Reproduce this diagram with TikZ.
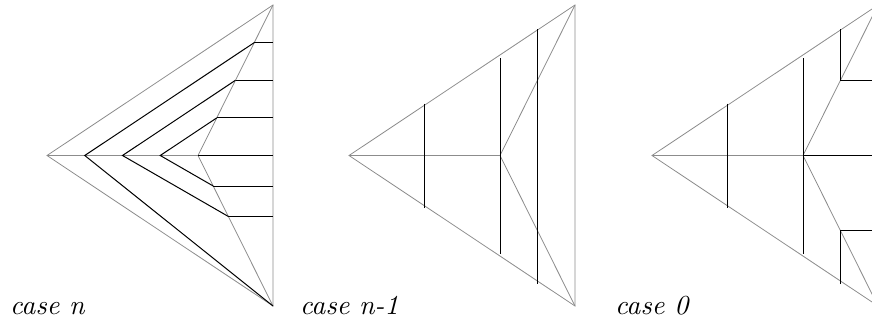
\documentclass[tikz,border=0pt]{standalone}
\definecolor{lg}{gray}{0.55}
\begin{document}
\begin{tikzpicture}[x=1pt,y=-1pt,
  guide/.style={draw=lg,line width=0.8pt},
  ink/.style={draw=black,line width=1pt},
  lbl/.style={anchor=base west,inner sep=0pt}]
\useasboundingbox (0,0) rectangle (872,322);
\clip (0,0) rectangle (872,322);

% ---------- case n ----------
\begin{scope}[shift={(47,155.5)}]
  \coordinate (A1) at (0,0);
  \coordinate (T1) at (226,-150.5);
  \coordinate (B1) at (226,150.5);
  \coordinate (I1) at (151,0);
  \coordinate (R1) at (226,0);
  \coordinate (c1) at (37.75,0);
  \coordinate (c2) at (75.5,0);
  \coordinate (c3) at (113.25,0);
  \coordinate (u1) at (207.25,-112.9);
  \coordinate (u2) at (188.5,-75.25);
  \coordinate (u3) at (169.75,-37.6);
  \coordinate (l2) at (181.4,61);
  \coordinate (l3) at (166.2,30.5);
  \coordinate (ru1) at (226,-112.9);
  \coordinate (ru2) at (226,-75.25);
  \coordinate (ru3) at (226,-37.6);
  \coordinate (rl2) at (226,61);
  \coordinate (rl3) at (226,30.5);
  \draw[guide] (A1) -- (T1) -- (B1) -- cycle;
  \draw[guide] (A1) -- (I1);
  \draw[guide] (T1) -- (I1) -- (B1);
  \draw[ink] (u1) -- (c1) -- (B1);
  \draw[ink] (u2) -- (c2) -- (l2);
  \draw[ink] (u3) -- (c3) -- (l3);
  \draw[ink] (u1) -- (ru1);
  \draw[ink] (u2) -- (ru2);
  \draw[ink] (u3) -- (ru3);
  \draw[ink] (I1) -- (R1);
  \draw[ink] (l3) -- (rl3);
  \draw[ink] (l2) -- (rl2);
\end{scope}
\node[lbl] (L1) at (10,314) {\scalebox{2.75}{\itshape case n}};

% ---------- case n-1 ----------
\begin{scope}[shift={(349,155.5)}]
  \coordinate (A2) at (0,0);
  \coordinate (T2) at (226,-150.5);
  \coordinate (B2) at (226,150.5);
  \coordinate (I2) at (151,0);
  \coordinate (v1a) at (75,-52);
  \coordinate (v1b) at (75,52.5);
  \coordinate (v2a) at (151,-97.5);
  \coordinate (v2b) at (151,98.5);
  \coordinate (v3a) at (188.5,-126.5);
  \coordinate (v3b) at (188.5,128.5);
  \draw[guide] (A2) -- (T2) -- (B2) -- cycle;
  \draw[guide] (A2) -- (I2);
  \draw[guide] (T2) -- (I2) -- (B2);
  \draw[ink] (v1a) -- (v1b);
  \draw[ink] (v2a) -- (v2b);
  \draw[ink] (v3a) -- (v3b);
\end{scope}
\node[lbl] (L2) at (300,314) {\scalebox{2.75}{\itshape case n-1}};

% ---------- case 0 ----------
\begin{scope}[shift={(652,155.5)}]
  \coordinate (A3) at (0,0);
  \coordinate (T3) at (226,-150.5);
  \coordinate (B3) at (226,150.5);
  \coordinate (I3) at (151,0);
  \coordinate (R3) at (226,0);
  \coordinate (w1a) at (75,-52);
  \coordinate (w1b) at (75,52.5);
  \coordinate (w2a) at (151,-97.5);
  \coordinate (w2b) at (151,98.5);
  \coordinate (p1) at (188.5,-75.25);
  \coordinate (p2) at (188.5,75.25);
  \coordinate (p1t) at (188.5,-126.5);
  \coordinate (p2b) at (188.5,128.5);
  \coordinate (q1) at (226,-75.25);
  \coordinate (q2) at (226,75.25);
  \draw[guide] (A3) -- (T3) -- (B3) -- cycle;
  \draw[guide] (A3) -- (I3);
  \draw[guide] (T3) -- (I3) -- (B3);
  \draw[ink] (w1a) -- (w1b);
  \draw[ink] (w2a) -- (w2b);
  \draw[ink] (I3) -- (R3);
  \draw[ink] (p1t) -- (p1) -- (q1);
  \draw[ink] (p2b) -- (p2) -- (q2);
\end{scope}
\node[lbl] (L3) at (615,314) {\scalebox{2.75}{\itshape case 0}};
\end{tikzpicture}
\end{document}
